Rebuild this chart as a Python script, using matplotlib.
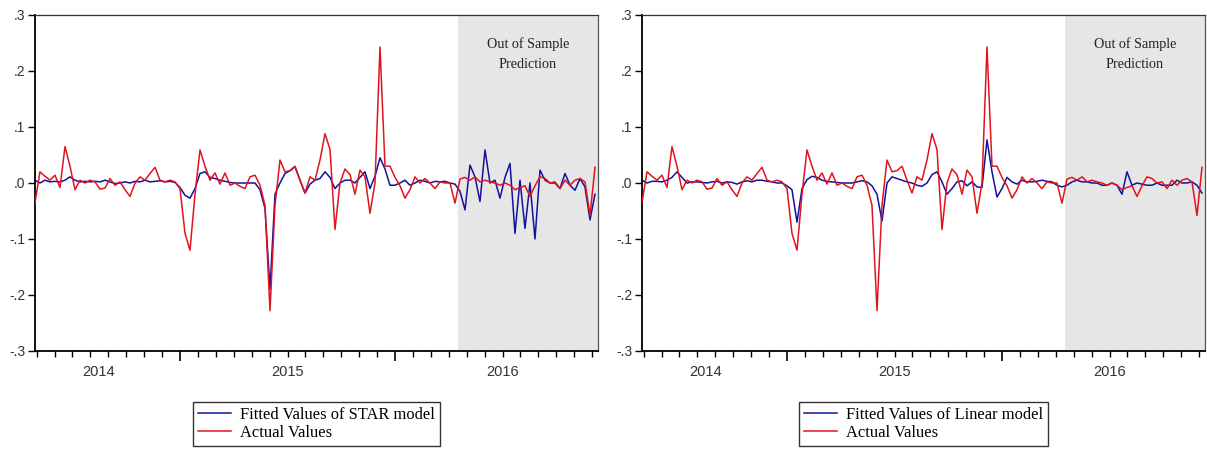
"""
STAR vs linear model: fitted values against actual returns, with out-of-sample window
"""
import numpy as np
import matplotlib.pyplot as plt
from matplotlib.ticker import FixedLocator, FuncFormatter

plt.rcParams['font.family'] = ['Liberation Sans', 'DejaVu Sans']

# weekly observations, May 2014 - Dec 2016 (decimal years)
t_start, t_end = 2014.3256, 2016.930
oos_start = 2016.293

actual = [
    -0.035, 0.020, 0.012, 0.005, 0.014, -0.008, 0.065, 0.030, -0.012, 0.005,
    0.000, 0.005, 0.002, -0.011, -0.009, 0.008, -0.004, 0.002, -0.012, -0.024,
    0.000, 0.011, 0.005, 0.017, 0.028, 0.005, 0.002, 0.005, 0.002, -0.010,
    -0.090, -0.120, -0.020, 0.059, 0.030, 0.005, 0.018, -0.002, 0.018, -0.004,
    0.000, -0.006, -0.010, 0.011, 0.014, -0.004, -0.040, -0.228, -0.040, 0.041,
    0.020, 0.022, 0.030, 0.005, -0.018, 0.011, 0.005, 0.041, 0.088, 0.060,
    -0.083, 0.000, 0.025, 0.015, -0.020, 0.023, 0.011, -0.054, 0.000, 0.243,
    0.030, 0.030, 0.010, -0.005, -0.027, -0.012, 0.011, 0.000, 0.008, 0.000,
    -0.010, 0.002, 0.000, 0.000, -0.036, 0.007, 0.010, 0.005, 0.011, 0.002,
    0.005, 0.002, 0.000, -0.004, 0.000, -0.004, -0.012, -0.008, -0.005, -0.024,
    -0.005, 0.011, 0.008, 0.000, 0.002, -0.010, 0.005, -0.004, 0.005, 0.008,
    0.002, -0.058, 0.028,
]

fitted_star = [
    0.005, 0.000, 0.005, 0.002, 0.003, 0.002, 0.005, 0.011, 0.005, 0.002,
    0.003, 0.002, 0.003, 0.002, 0.005, 0.002, -0.001, 0.000, 0.002, 0.000,
    0.003, 0.002, 0.005, 0.002, 0.003, 0.004, 0.002, 0.003, 0.001, -0.008,
    -0.022, -0.027, -0.010, 0.017, 0.020, 0.010, 0.008, 0.005, 0.003, 0.001,
    0.000, 0.000, 0.000, 0.000, 0.000, -0.012, -0.045, -0.190, -0.020, 0.000,
    0.017, 0.022, 0.029, 0.005, -0.018, -0.002, 0.005, 0.008, 0.020, 0.010,
    -0.010, 0.000, 0.005, 0.005, 0.000, 0.010, 0.020, -0.010, 0.012, 0.045,
    0.025, -0.004, -0.004, 0.000, 0.005, -0.004, 0.000, 0.005, 0.003, 0.000,
    0.003, 0.002, 0.003, 0.000, -0.002, -0.015, -0.048, 0.032, 0.011, -0.033,
    0.059, 0.000, 0.005, -0.027, 0.010, 0.035, -0.090, 0.005, -0.081, 0.000,
    -0.100, 0.023, 0.005, 0.000, 0.000, -0.010, 0.017, -0.004, -0.013, 0.008,
    -0.007, -0.066, -0.020,
]

fitted_linear = [
    0.005, 0.000, 0.003, 0.003, 0.002, 0.005, 0.010, 0.020, 0.010, 0.000,
    0.002, 0.002, 0.001, 0.000, 0.002, 0.003, 0.000, 0.002, 0.001, -0.002,
    0.002, 0.004, 0.002, 0.005, 0.005, 0.003, 0.002, 0.000, 0.000, -0.005,
    -0.012, -0.070, -0.010, 0.006, 0.012, 0.010, 0.005, 0.003, 0.002, 0.001,
    0.000, 0.000, 0.000, 0.002, 0.004, 0.002, -0.005, -0.020, -0.068, 0.000,
    0.011, 0.008, 0.005, 0.002, 0.000, -0.004, -0.006, 0.000, 0.015, 0.020,
    0.002, -0.020, -0.010, 0.002, 0.004, -0.005, 0.002, -0.007, -0.008, 0.077,
    0.020, -0.025, -0.010, 0.010, 0.002, -0.002, 0.005, 0.002, 0.002, 0.003,
    0.005, 0.003, 0.002, -0.004, -0.007, -0.004, 0.002, 0.005, 0.002, 0.002,
    0.000, 0.000, -0.004, -0.004, 0.000, -0.004, -0.020, 0.020, -0.004, 0.000,
    -0.002, -0.004, -0.004, 0.000, -0.004, -0.004, -0.004, 0.005, 0.000, 0.000,
    0.002, -0.004, -0.018,
]

t = np.linspace(t_start, t_end, len(actual))

years = [2014, 2015, 2016]
year_label_pos = [2014.62, 2015.5, 2016.5]
month_ticks = [y + m / 12 for y in years for m in range(12)
               if 2014.33 <= y + m / 12 <= 2016.93]

panels = [
    (fitted_star, 'Fitted Values of STAR model'),
    (fitted_linear, 'Fitted Values of Linear model'),
]

blue = '#12129c'
red = '#e0141e'

fig = plt.figure(figsize=(12.07, 4.51), dpi=100)
lefts = [35 / 1207, 642 / 1207]

for left, (fitted, name) in zip(lefts, panels):
    ax = fig.add_axes([left, 100 / 451, 563 / 1207, 336 / 451])
    ax.axvspan(oos_start, 2017, color='#e6e6e6', lw=0, zorder=0)
    ax.plot(t, fitted, color=blue, lw=1.1, label=name, zorder=2)
    ax.plot(t, actual, color=red, lw=1.1, label='Actual Values', zorder=3)

    ax.set_xlim(2014.3256, 2016.944)
    ax.set_ylim(-0.3, 0.3)

    # y axis: EViews style labels without leading zero
    ax.set_yticks([-0.3, -0.2, -0.1, 0.0, 0.1, 0.2, 0.3])
    ax.yaxis.set_major_formatter(FuncFormatter(
        lambda v, p: ('-' if v < -1e-9 else '') + ('%.1f' % abs(v))[1:]))
    ax.tick_params(axis='y', direction='out', length=5, width=1, pad=2,
                   labelsize=10, labelcolor='#333333')

    # x axis: long ticks at year boundaries, short monthly ticks
    ax.xaxis.set_major_locator(FixedLocator([2015, 2016]))
    ax.xaxis.set_minor_locator(FixedLocator(month_ticks))
    ax.xaxis.set_major_formatter(FuncFormatter(lambda v, p: ''))
    ax.tick_params(axis='x', which='major', direction='out', length=7, width=1.2)
    ax.tick_params(axis='x', which='minor', direction='out', length=4, width=1)
    for yr, pos in zip(years, year_label_pos):
        ax.text(pos, -0.063, str(yr), transform=ax.get_xaxis_transform(),
                ha='center', va='center', fontsize=10.5, color='#333333')

    for s in ['left', 'bottom']:
        ax.spines[s].set_color('black')
        ax.spines[s].set_linewidth(1.3)
    ax.spines['top'].set_color('#333333')
    ax.spines['top'].set_linewidth(0.9)
    ax.spines['right'].set_color('#555555')
    ax.spines['right'].set_linewidth(0.9)

    ax.text((oos_start + 2016.944) / 2, 0.230, 'Out of Sample\nPrediction',
            ha='center', va='center', fontsize=10.2, linespacing=1.65,
            family=['Liberation Serif', 'DejaVu Serif'], color='#222222')

    leg = ax.legend(loc='upper center', bbox_to_anchor=(0.5, -0.152),
                    frameon=True, fancybox=False, handlelength=2.0,
                    handletextpad=0.5, borderpad=0.3, borderaxespad=0,
                    labelspacing=0.1,
                    prop={'family': ['Liberation Serif', 'DejaVu Serif'], 'size': 11.9})
    leg.get_frame().set_edgecolor('black')
    leg.get_frame().set_linewidth(1.0)

plt.savefig('out.png', dpi=100)
